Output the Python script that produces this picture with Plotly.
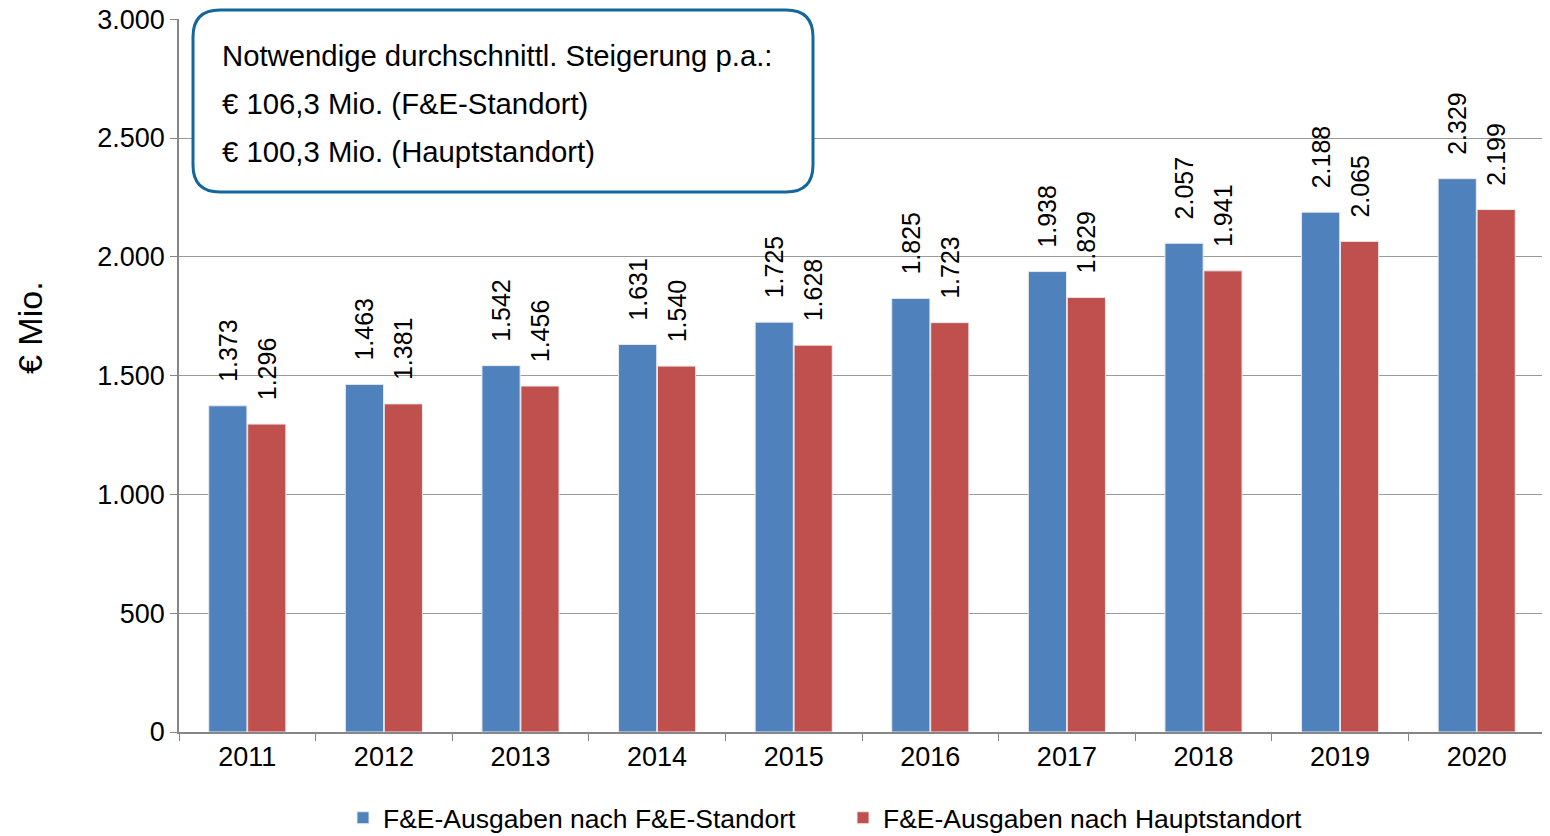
import plotly.graph_objects as go

years = ["2011", "2012", "2013", "2014", "2015", "2016", "2017", "2018", "2019", "2020"]
fue_standort = [1373, 1463, 1542, 1631, 1725, 1825, 1938, 2057, 2188, 2329]
hauptstandort = [1296, 1381, 1456, 1540, 1628, 1723, 1829, 1941, 2065, 2199]
series_names = ["F&E-Ausgaben nach F&E-Standort", "F&E-Ausgaben nach Hauptstandort"]
box_lines = [
    "Notwendige durchschnittl. Steigerung p.a.:",
    "€ 106,3 Mio. (F&E-Standort)",
    "€ 100,3 Mio. (Hauptstandort)",
]
y_title = "€ Mio."
y_ticks = [0, 500, 1000, 1500, 2000, 2500, 3000]

FONT = "Liberation Sans, Arial, sans-serif"
OFF = 8  # page body margin
W, H = 1550 - OFF, 836 - OFF
ML, MT = 179 - OFF, 19 - OFF
MR = W - (1545 - OFF)
MB = H - (732 - OFF)
PW, PH = W - ML - MR, H - MT - MB


def de_fmt(v):
    return f"{v:,}".replace(",", ".")


def px_x(p):  # screen pixel -> paper
    return (p - OFF - ML) / PW


def px_y(p):
    return (H - MB - (p - OFF)) / PH


pad = "\u00a0" * 3
fig = go.Figure()
for name, vals, col in [(series_names[0], fue_standort, "#4F81BD"),
                        (series_names[1], hauptstandort, "#C0504D")]:
    fig.add_trace(go.Bar(
        x=years, y=vals, name=name,
        marker=dict(color=col, line=dict(color="#E8E8E8", width=1)),
        text=[pad + de_fmt(v) for v in vals],
        textposition="outside", textangle=-90, constraintext="none",
        textfont=dict(family=FONT, size=25, color="#000000"),
        cliponaxis=False,
    ))

# rounded box
x0, x1 = px_x(193), px_x(813)
y0, y1 = px_y(192), px_y(10)
rx, ry = 27 / PW, 27 / PH
path = (f"M {x0+rx},{y1} L {x1-rx},{y1} Q {x1},{y1} {x1},{y1-ry} "
        f"L {x1},{y0+ry} Q {x1},{y0} {x1-rx},{y0} "
        f"L {x0+rx},{y0} Q {x0},{y0} {x0},{y0+ry} "
        f"L {x0},{y1-ry} Q {x0},{y1} {x0+rx},{y1} Z")
fig.add_shape(type="path", path=path, xref="paper", yref="paper",
              line=dict(color="#14679A", width=3), fillcolor="white", layer="above")

for i, (line, py) in enumerate(zip(box_lines, [55, 103, 151])):
    fig.add_annotation(text=line, xref="paper", yref="paper", x=px_x(220), y=px_y(py),
                       xanchor="left", yanchor="middle", showarrow=False,
                       font=dict(family=FONT, size=29.3, color="#000000"))

fig.add_annotation(text=y_title, xref="paper", yref="paper", x=px_x(30), y=px_y(328),
                   textangle=-90, showarrow=False, xanchor="center", yanchor="middle",
                   font=dict(family=FONT, size=34, color="#000000"))

fig.update_layout(
    width=W, height=H,
    margin=dict(l=ML, r=MR, t=MT, b=MB, autoexpand=False),
    paper_bgcolor="white", plot_bgcolor="white",
    separators=",.",
    barmode="group", bargap=0.43, bargroupgap=0.02,
    font=dict(family=FONT, size=27, color="#000000"),
    showlegend=True,
    legend=dict(orientation="h", x=px_x(343), y=px_y(818), xanchor="left", yanchor="middle",
                font=dict(family=FONT, size=26.5, color="#000000"),
                entrywidth=455, entrywidthmode="pixels"),
)
fig.update_xaxes(
    type="category", showline=True, linecolor="#868686", linewidth=1.5,
    ticks="outside", tickson="boundaries", ticklen=7, tickcolor="#868686",
    tickfont=dict(family=FONT, size=27, color="#000000"), showgrid=False,
)
fig.update_yaxes(
    range=[0, 3001], tickvals=y_ticks, tickformat=",d", ticklabeloverflow="allow",
    showline=True, linecolor="#868686", linewidth=1.5,
    ticks="outside", ticklen=7, tickcolor="#868686",
    showgrid=True, gridcolor="#9A9A9A", gridwidth=1, zeroline=False,
    tickfont=dict(family=FONT, size=27, color="#000000"),
)

fig.write_html("out.html")
